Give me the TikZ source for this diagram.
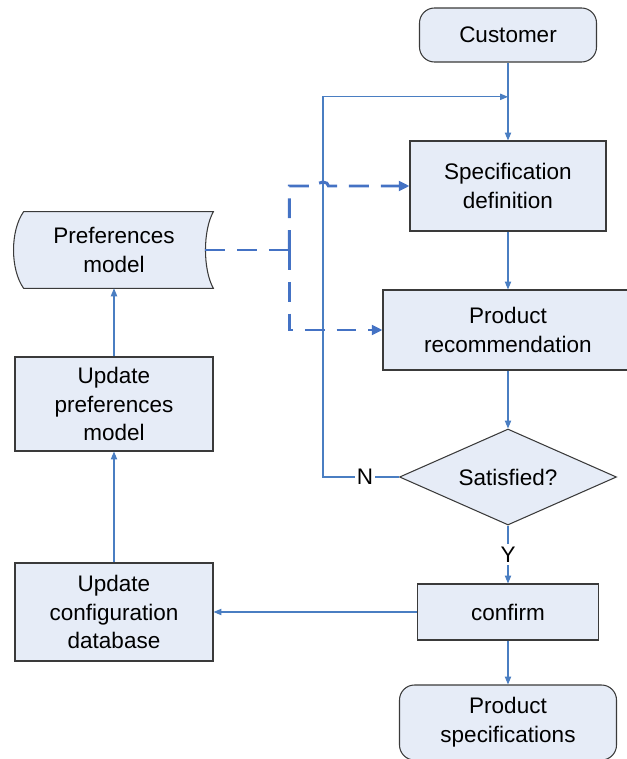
\documentclass[tikz,border=0pt]{standalone}
\usepackage{fontspec}
\setmainfont{Liberation Sans}
\usetikzlibrary{arrows.meta,positioning,shapes.geometric,calc,backgrounds}

\definecolor{boxfill}{HTML}{E6ECF7}
\definecolor{boxline}{HTML}{3A3A3A}
\definecolor{flowblue}{HTML}{4A7EC2}
\definecolor{datablue}{HTML}{4472C4}

\tikzset{
  block/.style={rectangle, draw=boxline, fill=boxfill, line width=0.6pt, align=center, inner sep=2pt},
  terminal/.style={block, rounded corners=0.3cm},
  decision/.style={diamond, draw=boxline, fill=boxfill, line width=0.6pt, shape aspect=2.2, inner sep=1pt,
                   minimum width=4.34cm, minimum height=1.92cm},
  flow/.style={draw=flowblue, line width=0.6pt, -{Triangle[length=4.5pt,width=3.6pt]}},
  datalink/.style={draw=datablue, line width=1.7pt, dash pattern=on 11.3pt off 6.8pt,
                   -{Triangle[length=6pt,width=5.5pt]}},
  store/.style={draw=boxline, fill=boxfill, line width=0.6pt}
}

\begin{document}
\begin{tikzpicture}[on grid, node distance=3cm, font=\fontsize{12.8}{16.4}\selectfont]
\useasboundingbox (0,0) rectangle (12.52,-15.18);

% main column
\node[terminal, minimum width=3.54cm, minimum height=1.08cm] (cust) at (10.16,-0.70) {Customer};
\node[block, minimum width=3.92cm, minimum height=1.8cm, below=3.02cm of cust] (spec) {Specification\\definition};
\node[block, minimum width=5.0cm, minimum height=1.6cm, below=2.88cm of spec] (rec) {Product\\recommendation};
\node[decision, below=2.94cm of rec] (sat) {Satisfied?};
\node[block, minimum width=3.62cm, minimum height=1.12cm, below=2.70cm of sat] (confirm) {confirm};
\node[terminal, minimum width=4.34cm, minimum height=1.5cm, below=2.21cm of confirm] (prodspec) {Product\\specifications};

% left column
\node[block, minimum width=3.96cm, minimum height=1.96cm, left=7.88cm of confirm] (upcfg) {Update\\configuration\\database};
\node[block, minimum width=3.96cm, minimum height=1.88cm, above=4.16cm of upcfg] (uppref) {Update\\preferences\\model};
\node[minimum width=3.96cm, minimum height=1.52cm, align=center, above=3.08cm of uppref] (prefs) {Preferences\\model};
\begin{pgfonlayer}{background}
  \draw[store] ([xshift=0.18cm]prefs.north west) .. controls +(-0.27,-0.38) and +(-0.27,0.38) .. ([xshift=0.18cm]prefs.south west)
    -- (prefs.south east) .. controls +(-0.21,0.38) and +(-0.21,-0.38) .. (prefs.north east) -- cycle;
\end{pgfonlayer}

\coordinate (join) at ($(cust.south)!0.44!(spec.north)$);
\coordinate (back) at ($(sat.west)+(-1.52,0)$);
\coordinate (hub) at ($(prefs.east)+(1.52,0)$);

% flow
\draw[flow] (cust) -- (spec);
\draw[flow] (spec) -- (rec);
\draw[flow] (rec) -- (sat);
\draw[flow] (sat) -- node[fill=white, inner sep=1.5pt] {Y} (confirm);
\draw[flow] (confirm) -- (prodspec);
\draw[flow] (sat.west) -- node[fill=white, inner sep=1pt, xshift=0.08cm] {N} (back) |- (join);
\draw[flow] (confirm) -- (upcfg);
\draw[flow] (upcfg) -- (uppref);
\draw[flow] (uppref) -- (prefs);

% preferences data
\draw[datalink, -] ([xshift=-0.16cm]prefs.east) -- (hub);
\draw[datalink] (hub) -- (hub |- spec.west) -- ([xshift=-0.11cm]back |- spec.west)
  arc[start angle=180, end angle=0, x radius=0.11cm, y radius=0.08cm] -- (spec.west);
\draw[datalink] (hub) -- (hub |- rec.west) -- (rec.west);
\end{tikzpicture}
\end{document}
